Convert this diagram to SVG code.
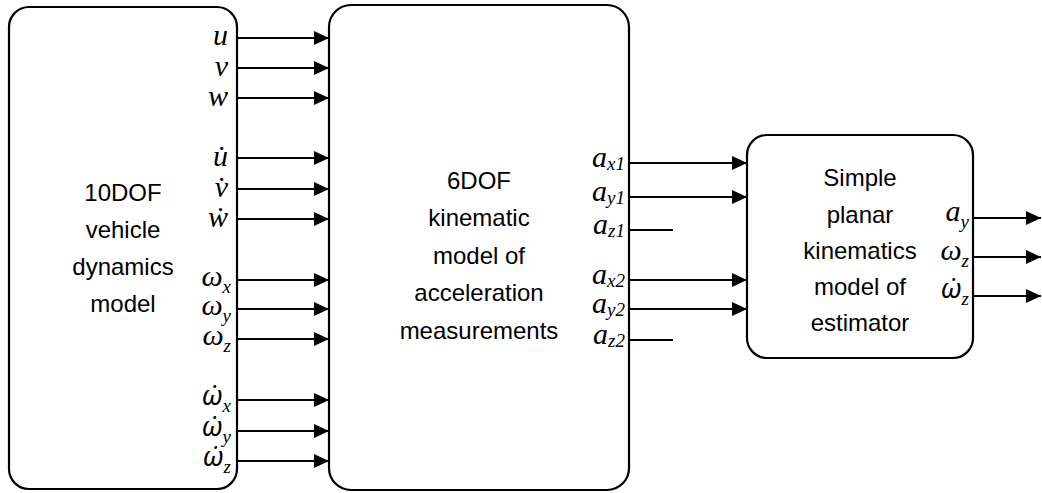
<svg xmlns="http://www.w3.org/2000/svg" width="1042" height="493" viewBox="0 0 1042 493">
  <style>
    .box { fill: #fff; stroke: #000; stroke-width: 2.2; }
    .title { font-family: "Liberation Sans", Arial, sans-serif; font-size: 24px; text-anchor: middle; fill: #000; }
    .sym { font-family: "Liberation Serif", "Times New Roman", serif; font-style: italic; font-size: 30px; fill: #000; text-anchor: end; }
    /* omega with over-dot: Noto Sans places the combining dot over the base letter */
    .symd { font-family: "Noto Sans", sans-serif; font-size: 27px; }
    .sub { font-family: "Liberation Serif", "Times New Roman", serif; font-size: 19px; }
    .wire { stroke: #000; stroke-width: 2; fill: none; }
  </style>
  <defs>
    <marker id="arrow" markerUnits="userSpaceOnUse" markerWidth="16" markerHeight="16" refX="15" refY="7" orient="auto">
      <path d="M0,0 L15,7 L0,14 z" fill="#000"/>
    </marker>
  </defs>

  <!-- blocks -->
  <g id="node-vehicle">
    <rect class="box" x="9" y="7" width="228" height="482" rx="20"/>
    <text class="title" x="123" y="201">10DOF</text>
    <text class="title" x="123" y="238">vehicle</text>
    <text class="title" x="123" y="275">dynamics</text>
    <text class="title" x="123" y="312">model</text>
  </g>
  <g id="node-kinematic">
    <rect class="box" x="329" y="5" width="300" height="485" rx="22"/>
    <text class="title" x="479" y="189">6DOF</text>
    <text class="title" x="479" y="226">kinematic</text>
    <text class="title" x="479" y="264">model of</text>
    <text class="title" x="479" y="301">acceleration</text>
    <text class="title" x="479" y="339">measurements</text>
  </g>
  <g id="node-estimator">
    <rect class="box" x="747" y="135" width="226" height="223" rx="20"/>
    <text class="title" x="860" y="186">Simple</text>
    <text class="title" x="860" y="223">planar</text>
    <text class="title" x="860" y="259">kinematics</text>
    <text class="title" x="860" y="295">model of</text>
    <text class="title" x="860" y="331">estimator</text>
  </g>

  <!-- signals -->
  <g id="connectors">
    <line class="wire" x1="237" y1="38" x2="329" y2="38" marker-end="url(#arrow)"/>
    <line class="wire" x1="237" y1="68" x2="329" y2="68" marker-end="url(#arrow)"/>
    <line class="wire" x1="237" y1="98" x2="329" y2="98" marker-end="url(#arrow)"/>
    <line class="wire" x1="237" y1="158" x2="329" y2="158" marker-end="url(#arrow)"/>
    <line class="wire" x1="237" y1="189" x2="329" y2="189" marker-end="url(#arrow)"/>
    <line class="wire" x1="237" y1="219" x2="329" y2="219" marker-end="url(#arrow)"/>
    <line class="wire" x1="237" y1="280" x2="329" y2="280" marker-end="url(#arrow)"/>
    <line class="wire" x1="237" y1="309" x2="329" y2="309" marker-end="url(#arrow)"/>
    <line class="wire" x1="237" y1="339" x2="329" y2="339" marker-end="url(#arrow)"/>
    <line class="wire" x1="237" y1="400" x2="329" y2="400" marker-end="url(#arrow)"/>
    <line class="wire" x1="237" y1="431" x2="329" y2="431" marker-end="url(#arrow)"/>
    <line class="wire" x1="237" y1="461" x2="329" y2="461" marker-end="url(#arrow)"/>

    <line class="wire" x1="629" y1="163" x2="747" y2="163" marker-end="url(#arrow)"/>
    <line class="wire" x1="629" y1="197" x2="747" y2="197" marker-end="url(#arrow)"/>
    <line class="wire" x1="629" y1="230" x2="673" y2="230"/>
    <line class="wire" x1="629" y1="280" x2="747" y2="280" marker-end="url(#arrow)"/>
    <line class="wire" x1="629" y1="309" x2="747" y2="309" marker-end="url(#arrow)"/>
    <line class="wire" x1="629" y1="340" x2="673" y2="340"/>

    <line class="wire" x1="973" y1="218" x2="1041" y2="218" marker-end="url(#arrow)"/>
    <line class="wire" x1="973" y1="257" x2="1041" y2="257" marker-end="url(#arrow)"/>
    <line class="wire" x1="973" y1="296" x2="1041" y2="296" marker-end="url(#arrow)"/>
  </g>

  <!-- signal names -->
  <g id="labels-vehicle-out">
    <text class="sym" x="228" y="45">u</text>
    <text class="sym" x="228" y="76">v</text>
    <text class="sym" x="228" y="106">w</text>
    <text class="sym" x="228" y="166">u̇</text>
    <text class="sym" x="228" y="197">v̇</text>
    <text class="sym" x="228" y="227">ẇ</text>
    <text class="sym" x="231" y="286">ω<tspan class="sub" dy="7">x</tspan></text>
    <text class="sym" x="231" y="315">ω<tspan class="sub" dy="7">y</tspan></text>
    <text class="sym" x="231" y="345">ω<tspan class="sub" dy="7">z</tspan></text>
    <text class="sym symd" x="231" y="405">ω̇<tspan class="sub" dy="7">x</tspan></text>
    <text class="sym symd" x="231" y="436">ω̇<tspan class="sub" dy="7">y</tspan></text>
    <text class="sym symd" x="231" y="466">ω̇<tspan class="sub" dy="7">z</tspan></text>
  </g>
  <g id="labels-accel">
    <text class="sym" x="625" y="167">a<tspan class="sub" dy="3">x1</tspan></text>
    <text class="sym" x="625" y="201">a<tspan class="sub" dy="3">y1</tspan></text>
    <text class="sym" x="625" y="234">a<tspan class="sub" dy="3">z1</tspan></text>
    <text class="sym" x="625" y="284">a<tspan class="sub" dy="3">x2</tspan></text>
    <text class="sym" x="625" y="313">a<tspan class="sub" dy="3">y2</tspan></text>
    <text class="sym" x="625" y="344">a<tspan class="sub" dy="3">z2</tspan></text>
  </g>
  <g id="labels-estimator-out">
    <text class="sym" x="969" y="221">a<tspan class="sub" dy="7">y</tspan></text>
    <text class="sym" x="969" y="260">ω<tspan class="sub" dy="7">z</tspan></text>
    <text class="sym symd" x="969" y="298">ω̇<tspan class="sub" dy="7">z</tspan></text>
  </g>
</svg>
